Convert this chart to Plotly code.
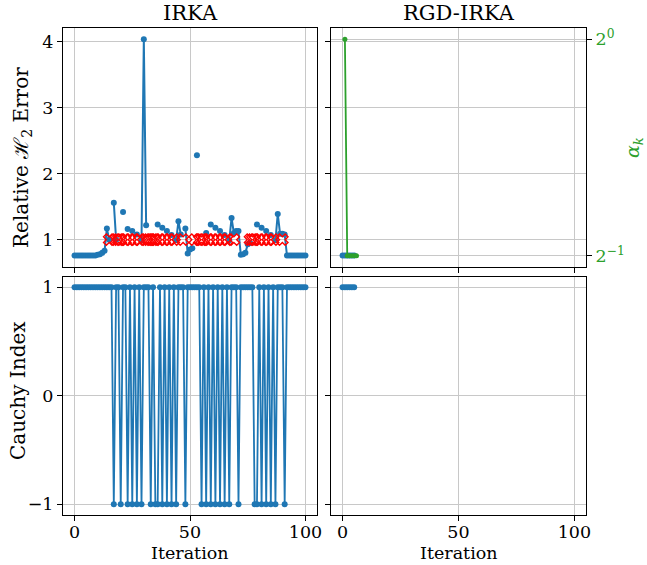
import plotly.graph_objects as go

# ---------------- data ----------------
irka_iters = list(range(0, 101))
irka_err = [
    0.76, 0.76, 0.76, 0.76, 0.76, 0.76, 0.76, 0.76, 0.76, 0.76,
    0.77, 0.78, 0.80, 0.83, 1.17, 1.00, None, 1.56, 1.00, None,
    None, 1.42, None, 1.16, None, 1.13, None, 1.08, None, 0.99,
    4.04, 1.22, None, None, None, None, 1.23, None, 1.18, None,
    1.13, None, 1.07, None, 0.99, 1.28, 1.08, None, 1.17, 0.79,
    0.85, 0.87, None, 2.28, None, None, None, 1.10, None, 1.23,
    None, 1.18, None, 1.13, None, 1.07, None, 0.99, 1.33, 1.10,
    1.13, 1.13, 0.77, 0.78, 0.80, 0.93, 0.95, None, None, 1.23,
    None, 1.18, None, 1.13, None, 1.07, None, 0.99, 1.39, 1.09,
    1.09, 1.08, 0.76, 0.76, 0.76, 0.76, 0.76, 0.76, 0.76, 0.76,
    0.76,
]
unstable_iters = [15, 18, 19, 20, 22, 24, 26, 28, 31, 32, 33, 34, 35, 37, 39,
                  41, 43, 47, 52, 54, 55, 56, 58, 60, 62, 64, 66, 69, 76, 77,
                  78, 80, 82, 84, 86, 90]
unstable_marker_level = [1.0] * len(unstable_iters)

irka_cauchy = [
    1, 1, 1, 1, 1, 1, 1, 1, 1, 1,
    1, 1, 1, 1, 1, 1, 1, -1, 1, 1,
    -1, 1, 1, -1, 1, -1, 1, -1, 1, -1,
    1, 1, 1, -1, 1, -1, -1, 1, -1, 1,
    -1, 1, -1, 1, -1, 1, 1, 1, -1, 1,
    1, 1, 1, 1, 1, -1, 1, -1, 1, -1,
    1, -1, 1, -1, 1, -1, 1, -1, 1, 1,
    1, -1, 1, 1, 1, 1, 1, 1, -1, -1,
    1, -1, 1, -1, 1, -1, 1, -1, 1, 1,
    1, -1, 1, 1, 1, 1, 1, 1, 1, 1,
    1,
]

rgd_iters = [0, 1, 2, 3, 4, 5]
rgd_err = [0.76, 0.76, 0.76, 0.76, 0.76, 0.76]
rgd_cauchy = [1, 1, 1, 1, 1, 1]
alpha_iters = [1, 2, 3, 4, 5, 6]
alpha_vals = [1.0, 0.5, 0.5, 0.5, 0.5, 0.5]

x_ticks = [0, 50, 100]
err_ticks = [1, 2, 3, 4]
cauchy_ticks = [-1, 0, 1]
alpha_ticks = [0.5, 1.0]
alpha_ticktext = ["2<sup>−1</sup>", "2<sup>0</sup>"]

# ---------------- style ----------------
BLUE = "#1f77b4"
GREEN = "#2ca02c"
FONT = "DejaVu Serif"
TICK_SIZE = 17.5
LABEL_SIZE = 17.5
YLABEL_SIZE = 20
TITLE_SIZE = 21
GRID = "#c8c8c8"

W, H = 647, 565
xl = [63 / W, 317 / W]
xr = [331 / W, 586 / W]
yt = [1 - 266.7 / H, 1 - 28.3 / H]
yb = [1 - 515.2 / H, 1 - 276.5 / H]

fig = go.Figure()

fig.add_trace(go.Scatter(x=irka_iters, y=irka_err, mode="lines+markers",
                         line=dict(color=BLUE, width=2), marker=dict(size=6, color=BLUE),
                         connectgaps=False, xaxis="x", yaxis="y", showlegend=False))
fig.add_trace(go.Scatter(x=unstable_iters, y=unstable_marker_level, mode="markers",
                         marker=dict(symbol="x-open", size=10, color="red", line=dict(width=1.4, color="red")),
                         xaxis="x", yaxis="y", showlegend=False))
fig.add_trace(go.Scatter(x=rgd_iters, y=rgd_err, mode="lines+markers",
                         line=dict(color=BLUE, width=2), marker=dict(size=6, color=BLUE),
                         xaxis="x2", yaxis="y2", showlegend=False))
fig.add_trace(go.Scatter(x=alpha_iters, y=alpha_vals, mode="lines+markers",
                         line=dict(color=GREEN, width=1.8), marker=dict(size=5, color=GREEN),
                         xaxis="x2", yaxis="y5", showlegend=False))
fig.add_trace(go.Scatter(x=irka_iters, y=irka_cauchy, mode="lines+markers",
                         line=dict(color=BLUE, width=1.8), marker=dict(size=6, color=BLUE),
                         xaxis="x3", yaxis="y3", showlegend=False))
fig.add_trace(go.Scatter(x=rgd_iters, y=rgd_cauchy, mode="lines+markers",
                         line=dict(color=BLUE, width=1.8), marker=dict(size=6, color=BLUE),
                         xaxis="x4", yaxis="y4", showlegend=False))

common = dict(showline=True, linecolor="black", linewidth=1, mirror=True,
              ticks="outside", ticklen=5, tickwidth=1, tickcolor="black",
              showgrid=True, gridcolor=GRID, gridwidth=1, zeroline=False,
              automargin=False,
              tickfont=dict(family=FONT, size=TICK_SIZE, color="black"))

fig.update_layout(
    width=W, height=H,
    margin=dict(l=0, r=0, t=0, b=0),
    paper_bgcolor="white", plot_bgcolor="white",
    font=dict(family=FONT, size=TICK_SIZE, color="black"),
    xaxis=dict(domain=xl, anchor="y", range=[-5, 105], tickvals=x_ticks, showticklabels=False, **common),
    yaxis=dict(domain=yt, anchor="x", range=[0.59, 4.205], tickvals=err_ticks, **common),
    xaxis2=dict(domain=xr, anchor="y2", range=[-5, 105], tickvals=x_ticks, showticklabels=False, **common),
    yaxis2=dict(domain=yt, anchor="x2", range=[0.59, 4.205], tickvals=err_ticks, showticklabels=False, **common),
    xaxis3=dict(domain=xl, anchor="y3", range=[-5, 105], tickvals=x_ticks, ticklabelstandoff=-4, **common),
    yaxis3=dict(domain=yb, anchor="x3", range=[-1.1, 1.1], tickvals=cauchy_ticks, **common),
    xaxis4=dict(domain=xr, anchor="y4", range=[-5, 105], tickvals=x_ticks, ticklabelstandoff=-4, **common),
    yaxis4=dict(domain=yb, anchor="x4", range=[-1.1, 1.1], tickvals=cauchy_ticks, showticklabels=False, **common),
    yaxis5=dict(overlaying="y2", anchor="x2", side="right", type="log",
                range=[-1.05 * 0.30103, 0.05 * 0.30103],
                tickvals=alpha_ticks, ticktext=alpha_ticktext,
                showline=True, linecolor="black", linewidth=1,
                ticks="outside", ticklen=5, tickwidth=1, tickcolor="black",
                showgrid=True, gridcolor=GRID, gridwidth=1, zeroline=False, automargin=False,
                tickfont=dict(family=FONT, size=TICK_SIZE, color=GREEN)),
)

ann = [
    dict(text="IRKA", x=(xl[0] + xl[1]) / 2, y=1 - 13 / H, font=dict(size=TITLE_SIZE)),
    dict(text="RGD-IRKA", x=(xr[0] + xr[1]) / 2, y=1 - 13 / H, font=dict(size=TITLE_SIZE)),
    dict(text="Iteration", x=(xl[0] + xl[1]) / 2, y=1 - 553 / H, font=dict(size=LABEL_SIZE)),
    dict(text="Iteration", x=(xr[0] + xr[1]) / 2, y=1 - 553 / H, font=dict(size=LABEL_SIZE)),
    dict(text="Relative ℋ<sub>2</sub> Error", x=22 / W, y=1 - 158 / H,
         textangle=-90, font=dict(size=YLABEL_SIZE)),
    dict(text="Cauchy Index", x=18 / W, y=1 - 391 / H,
         textangle=-90, font=dict(size=YLABEL_SIZE)),
    dict(text="<i>α</i><sub><i>k</i></sub>", x=633 / W, y=1 - 148 / H,
         textangle=-90, font=dict(size=19, color=GREEN)),
]
for a in ann:
    a.setdefault("font", {})
    a["font"].setdefault("family", FONT)
    a["font"].setdefault("color", "black")
    fig.add_annotation(xref="paper", yref="paper", showarrow=False,
                       xanchor="center", yanchor="middle", **a)

fig.write_html("out.html", config={"displayModeBar": False})

# remove the default page margin so the figure sits at the window's top-left corner
with open("out.html", "r", encoding="utf-8") as f:
    html = f.read()
html = html.replace("<head>", "<head><style>html,body{margin:0;padding:0;overflow:hidden;}</style>", 1)
with open("out.html", "w", encoding="utf-8") as f:
    f.write(html)
